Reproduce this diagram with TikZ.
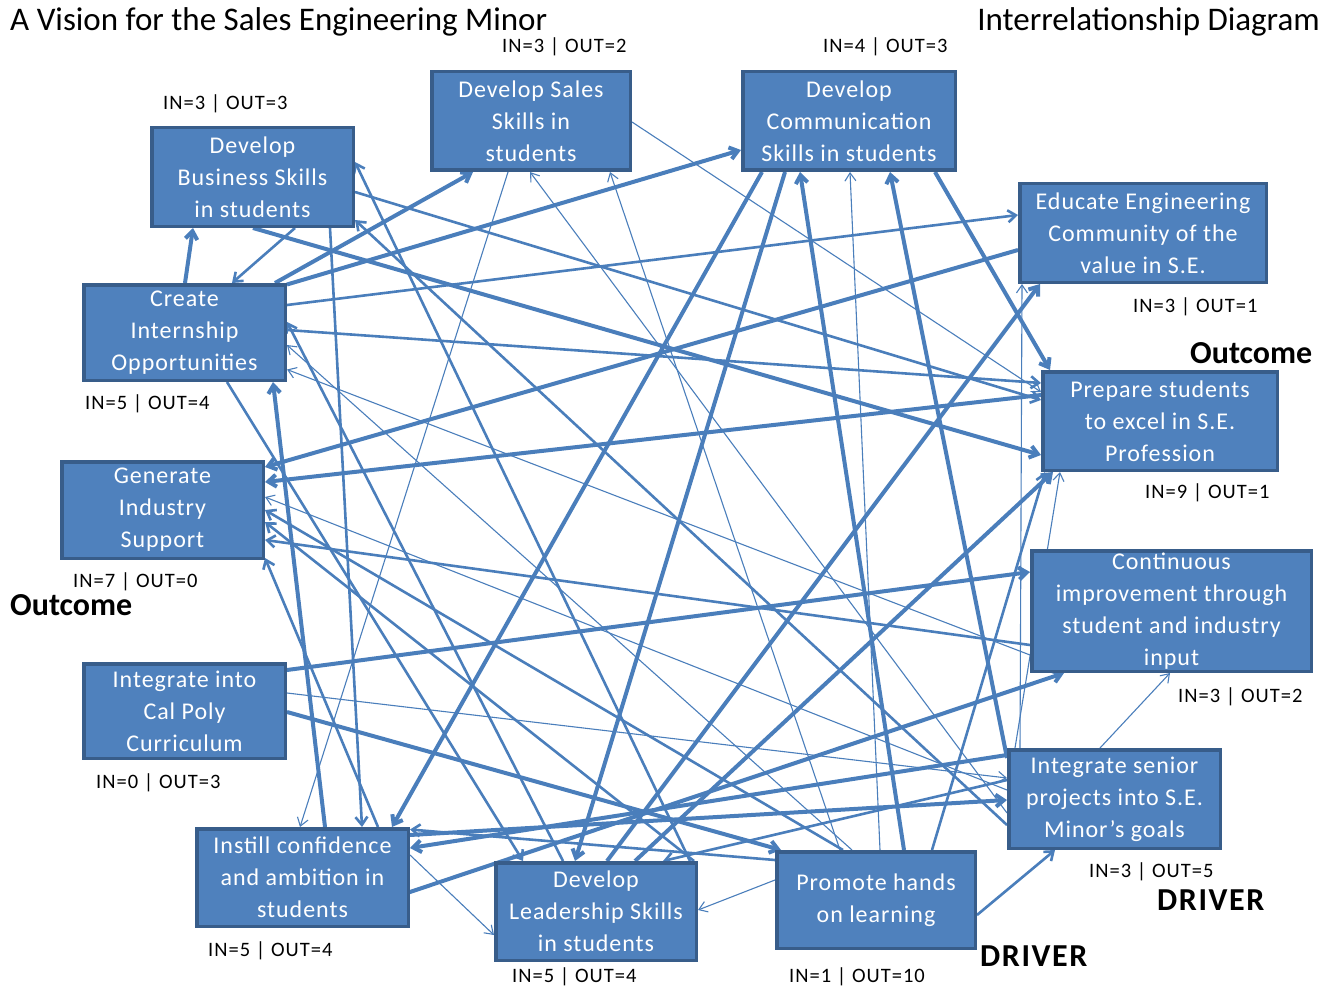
\documentclass[tikz,border=0pt]{standalone}
\usepackage{fontspec}
\setmainfont{Carlito}
\newfontfamily\boxfont[LetterSpace=4]{Carlito}
\newfontfamily\lblfont[LetterSpace=5]{Carlito}
\newfontfamily\drvfont[LetterSpace=5]{Carlito}
\usetikzlibrary{arrows.meta}
\definecolor{boxfill}{HTML}{4F81BD}
\definecolor{boxline}{HTML}{385D8A}
\definecolor{lncol}{HTML}{4A7EBB}
\pgfdeclarelayer{bg}
\pgfsetlayers{bg,main}
\newcommand\lnk[7]{\draw[#7] ([shift={(#2,#3)}]#1.center) -- ([shift={(#5,#6)}]#4.center);}
\begin{document}
\begin{tikzpicture}[x=1pt,y=-1pt,
  box/.style={draw=boxline, line width=3.5pt, fill=boxfill, text=white,
    font=\boxfont\fontsize{24}{32}\selectfont, align=center, inner sep=0pt},
  lbl/.style={font=\lblfont\fontsize{20.5}{24}\selectfont, inner sep=0pt, anchor=base west},
  big/.style={font=\bfseries\fontsize{32}{36}\selectfont, inner sep=0pt, anchor=base west},
  ttl/.style={font=\fontsize{33}{38}\selectfont, inner sep=0pt},
  thk/.style={draw=lncol, line width=4pt, -{Straight Barb[length=8pt,width=12pt]}},
  med/.style={draw=lncol, line width=2.6pt, -{Straight Barb[length=8pt,width=12pt]}},
  thn/.style={draw=lncol, line width=1.1pt, -{Straight Barb[length=8pt,width=11pt]}}]
\useasboundingbox (0,0) rectangle (1335,987);

% boxes
\node[box, minimum width=201.5pt, minimum height=98.5pt] (B) at (252.5,177) {Develop\\Business Skills\\in students};
\node[box, minimum width=198.5pt, minimum height=98.5pt] (S) at (531,121) {Develop Sales\\Skills in\\students};
\node[box, minimum width=212.5pt, minimum height=98.5pt] (C) at (849,121) {Develop\\Communication\\Skills in students};
\node[box, minimum width=246.5pt, minimum height=98.5pt] (E) at (1143,233) {Educate Engineering\\Community of the\\value in S.E.};
\node[box, minimum width=201.5pt, minimum height=95.5pt] (I) at (184.5,332.5) {Create\\Internship\\Opportunities};
\node[box, minimum width=234.5pt, minimum height=98.5pt] (P) at (1160,421) {Prepare students\\to excel in S.E.\\Profession};
\node[box, minimum width=201.5pt, minimum height=96.5pt] (G) at (162.5,510) {Generate\\Industry\\Support};
\node[box, minimum width=279.5pt, minimum height=120.5pt] (CI) at (1171.5,611) {Continuous\\improvement through\\student and industry\\input};
\node[box, minimum width=201.5pt, minimum height=94.5pt] (CP) at (184.5,711) {Integrate into\\Cal Poly\\Curriculum};
\node[box, minimum width=211.5pt, minimum height=98.5pt] (SP) at (1114.5,799) {Integrate senior\\projects into S.E.\\Minor’s goals};
\node[box, minimum width=211.5pt, minimum height=97.5pt] (IC) at (302.5,877.5) {Instill confidence\\and ambition in\\students};
\node[box, minimum width=200.5pt, minimum height=97.5pt] (L) at (596,911.5) {Develop\\Leadership Skills\\in students};
\node[box, minimum width=198.5pt, minimum height=96.5pt] (H) at (876,900) {Promote hands\\on learning};

% labels
\node[ttl, anchor=base west] (t1) at (10,31) {A Vision for the Sales Engineering Minor};
\node[ttl, anchor=base east] (t2) at (1320,31) {Interrelationship Diagram};
\node[lbl] (nB) at (163,110) {IN=3 | OUT=3};
\node[lbl] (nS) at (502,53) {IN=3 | OUT=2};
\node[lbl] (nC) at (823,53) {IN=4 | OUT=3};
\node[lbl] (nE) at (1133,312) {IN=3 | OUT=1};
\node[lbl] (nI) at (85,409) {IN=5 | OUT=4};
\node[lbl] (nP) at (1145,498) {IN=9 | OUT=1};
\node[lbl] (nG) at (73,587) {IN=7 | OUT=0};
\node[lbl] (nCI) at (1178,702) {IN=3 | OUT=2};
\node[lbl] (nCP) at (96,788) {IN=0 | OUT=3};
\node[lbl] (nSP) at (1089,877) {IN=3 | OUT=5};
\node[lbl] (nIC) at (208,956) {IN=5 | OUT=4};
\node[lbl] (nL) at (512,982) {IN=5 | OUT=4};
\node[lbl] (nH) at (789,982) {IN=1 | OUT=10};
\node[big] (o1) at (1190,363) {Outcome};
\node[big] (o2) at (10,615) {Outcome};
\node[big, font=\drvfont\bfseries\fontsize{32}{36}\selectfont] (d1) at (1157,910) {DRIVER};
\node[big, font=\drvfont\bfseries\fontsize{32}{36}\selectfont] (d2) at (980,966) {DRIVER};

\begin{pgfonlayer}{bg}
\lnk{I}{0.5}{-49.5}{B}{-59.5}{51}{thk}
\lnk{B}{42.5}{51}{I}{47.5}{-49.5}{med}
\lnk{B}{77.5}{51}{IC}{59.5}{-50.5}{med}
\lnk{B}{0.5}{51}{P}{-119}{34}{thk}
\lnk{B}{102.5}{15}{P}{-119}{-21}{med}
\lnk{L}{94}{-50.5}{B}{102.5}{-15}{med}
\lnk{I}{90.5}{-49.5}{S}{-58}{51}{thk}
\lnk{S}{-23}{51}{IC}{-2.5}{-50.5}{thn}
\lnk{SP}{-107.5}{14}{S}{-1}{51}{thn}
\lnk{H}{-36}{-50}{S}{79}{51}{thn}
\lnk{S}{101}{1}{P}{-119}{-29}{thn}
\lnk{I}{42.5}{49.5}{L}{-73}{-50.5}{med}
\lnk{CP}{102.5}{1}{H}{-95}{-50}{thk}
\lnk{CP}{102.5}{-41}{CI}{-141.5}{-39}{thk}
\lnk{CP}{102.5}{-18}{SP}{-107.5}{-21}{thn}
\lnk{E}{-125}{17}{G}{102.5}{-43}{thk}
\lnk{P}{-119}{-26}{G}{102.5}{-28}{thk}
\lnk{CI}{-141.5}{34}{G}{102.5}{30}{med}
\lnk{H}{-33}{-50}{G}{102.5}{0}{med}
\lnk{IC}{75.5}{-50.5}{G}{102.5}{48}{med}
\lnk{SP}{-107.5}{-9}{G}{102.5}{-13}{thn}
\lnk{L}{98}{-50.5}{G}{102.5}{12}{med}
\lnk{C}{-87}{51}{IC}{89.5}{-50.5}{thk}
\lnk{C}{-64}{51}{L}{-21}{-50.5}{thk}
\lnk{H}{28}{-50}{C}{-49}{51}{thk}
\lnk{H}{4}{-50}{C}{1}{51}{thn}
\lnk{SP}{-107.5}{-41}{C}{41}{51}{thk}
\lnk{C}{86}{51}{P}{-110}{-51}{thk}
\lnk{I}{102.5}{-48}{C}{-108}{29}{thk}
\lnk{I}{102.5}{-27.5}{E}{-125}{-18}{med}
\lnk{L}{11}{-50.5}{E}{-103}{51}{thk}
\lnk{SP}{-94.5}{-51}{E}{-121}{51}{thn}
\lnk{L}{39}{-50.5}{P}{-107}{51}{thk}
\lnk{H}{56}{-50}{P}{-115}{51}{med}
\lnk{I}{102.5}{-2.5}{P}{-119}{-38}{med}
\lnk{SP}{-14.5}{-51}{CI}{-1.5}{62}{thn}
\lnk{H}{101}{15}{SP}{-59.5}{51}{med}
\lnk{IC}{107.5}{-42.5}{SP}{-107.5}{1}{thk}
\lnk{SP}{-107.5}{-44}{IC}{107.5}{-29.5}{thk}
\lnk{IC}{104.5}{15.5}{CI}{-107.5}{62}{thk}
\lnk{H}{-101}{-20}{L}{102}{-1.5}{thn}
\lnk{IC}{107.5}{-22.5}{L}{-102}{23.5}{thn}
\lnk{H}{-101}{-40}{IC}{107.5}{-48}{med}
\lnk{SP}{-107.5}{-19}{L}{67}{-50.5}{med}
\lnk{H}{-24}{-50}{I}{102.5}{12.5}{thn}
\lnk{SP}{-107.5}{26}{B}{102.5}{43}{med}
\lnk{IC}{22.5}{-50.5}{I}{88.5}{49.5}{thk}
\lnk{L}{-33}{-50.5}{I}{102.5}{-10.5}{med}
\lnk{SP}{-99.5}{-51}{P}{-100}{51}{thn}
\lnk{CI}{-141.5}{44}{I}{102.5}{37}{thn}
\end{pgfonlayer}
\end{tikzpicture}
\end{document}
